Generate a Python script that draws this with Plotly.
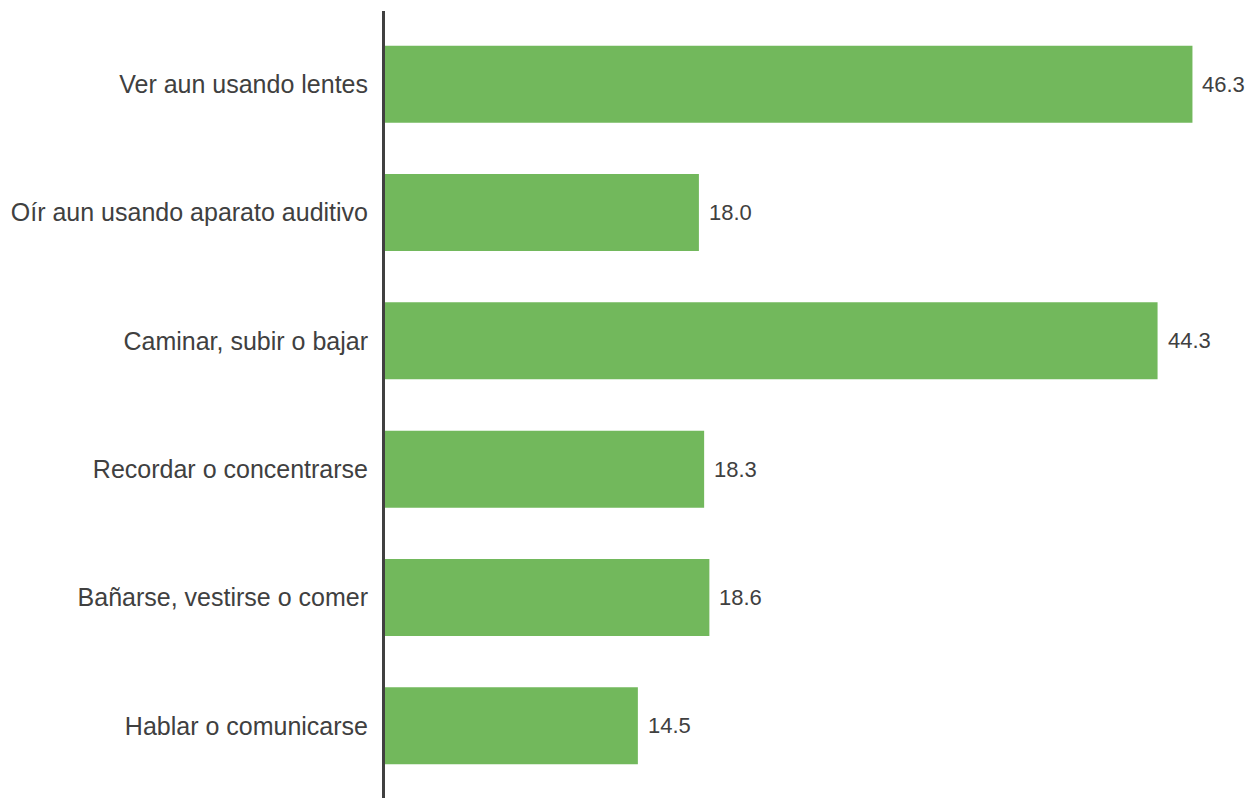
import plotly.graph_objects as go

categories = [
    "Ver aun usando lentes",
    "Oír aun usando aparato auditivo",
    "Caminar, subir o bajar",
    "Recordar o concentrarse",
    "Bañarse, vestirse o comer",
    "Hablar o comunicarse",
]
values = [46.3, 18.0, 44.3, 18.3, 18.6, 14.5]
value_labels = ["46.3", "18.0", "44.3", "18.3", "18.6", "14.5"]

TEXT = "#404040"
GREEN = "#72B85C"
FONT = "Liberation Sans, Arial, sans-serif"

fig = go.Figure(
    go.Bar(
        x=values,
        y=categories,
        orientation="h",
        width=0.6,
        marker=dict(color=GREEN, line=dict(width=0)),
        hoverinfo="skip",
    )
)

for cat, val, lab in zip(categories, values, value_labels):
    fig.add_annotation(
        x=val,
        y=cat,
        text=lab,
        showarrow=False,
        xanchor="left",
        xshift=8,
        font=dict(family=FONT, size=22, color=TEXT),
    )

fig.update_layout(
    width=1255,
    height=798,
    margin=dict(l=375, r=13, t=3, b=7),
    paper_bgcolor="white",
    plot_bgcolor="white",
    showlegend=False,
    font=dict(family=FONT, color=TEXT),
)

fig.update_xaxes(
    range=[0, 49.6],
    showgrid=False,
    zeroline=False,
    showticklabels=False,
    showline=False,
    ticks="",
)
fig.update_yaxes(
    categoryorder="array",
    categoryarray=categories,
    autorange=False,
    range=[5.57, -0.57],
    showgrid=False,
    zeroline=False,
    showline=True,
    linecolor="#404040",
    linewidth=3,
    ticks="",
    ticklabelstandoff=9,
    tickfont=dict(family=FONT, size=25, color=TEXT),
)

fig.write_html("out.html")
